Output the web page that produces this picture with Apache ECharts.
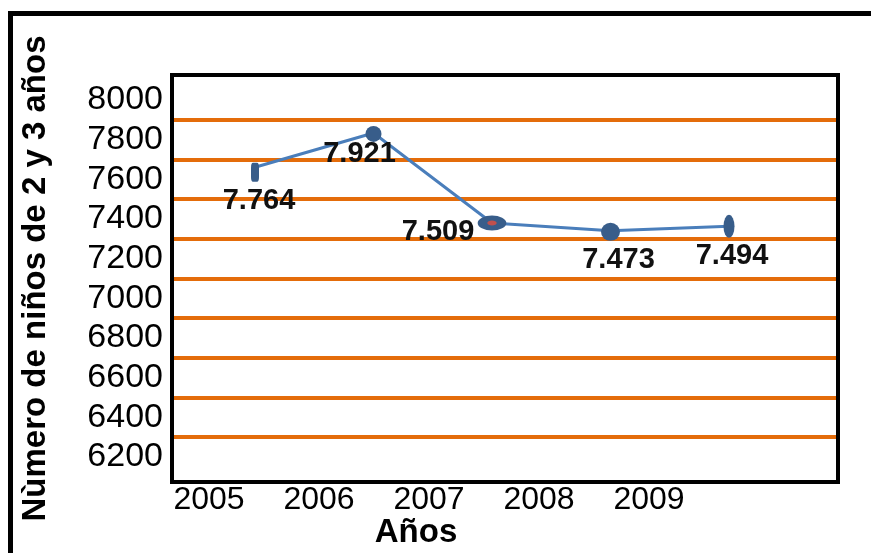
<!DOCTYPE html>
<html>
<head>
<meta charset="utf-8">
<script src="https://cdn.jsdelivr.net/npm/echarts@6/dist/echarts.min.js"></script>
<style>
html, body { margin: 0; background: #fff; }
#main { width: 871px; height: 553px; }
</style>
</head>
<body>
<div id="main"></div>
<script>
// datos
var anios = ['2005', '2006', '2007', '2008', '2009'];
var ninos = [7764, 7921, 7509, 7473, 7494];
// eje vertical (marcas)
var ejeMin = 6200, ejeMax = 8000, ejePaso = 200;

var azul = '#385D8A';
// cada marcador tiene su forma en el original
var marcas = [
	{ symbol: 'roundRect', size: [8, 19], off: [0, 5], color: azul, border: 0 },
	{ symbol: 'circle', size: 16, off: [0, 1], color: azul, border: 0 },
	{ symbol: 'circle', size: [19, 10], off: [0, 0], color: '#C0504D', border: 7 },
	{ symbol: 'circle', size: [19, 18], off: [0, 1], color: azul, border: 0 },
	{ symbol: 'circle', size: [11, 23], off: [0, 0], color: azul, border: 0 }
];
// desplazamiento de las etiquetas
var desplaz = [[4, 29], [-14, 20], [-54, 9], [8, 28], [3, 30]];

var puntos = ninos.map(function (v, i) {
	var m = marcas[i];
	return {
		value: v,
		symbol: m.symbol,
		symbolSize: m.size,
		symbolOffset: m.off,
		itemStyle: { color: m.color, borderColor: azul, borderWidth: m.border },
		label: { offset: desplaz[i] }
	};
});

var myChart = echarts.init(document.getElementById('main'));
var option = {
	animation: false,
	backgroundColor: '#fff',
	graphic: [
		{ type: 'rect', shape: { x: 8, y: 11, width: 863, height: 5 }, style: { fill: '#000' } },
		{ type: 'rect', shape: { x: 8, y: 11, width: 5, height: 542 }, style: { fill: '#000' } }
	],
	grid: [
		// caja del gráfico
		{ left: 172, top: 75, width: 666, height: 407, outerBoundsMode: 'none', show: true, borderColor: '#000', borderWidth: 4, backgroundColor: 'transparent' },
		// eje de valores y líneas naranjas
		{ left: 174, top: 100, width: 662, height: 357, outerBoundsMode: 'none' },
		// años
		{ left: 209, top: 400, width: 440, height: 82, outerBoundsMode: 'none' },
		// serie
		{ left: 255, top: 72, width: 474, height: 437, outerBoundsMode: 'none' }
	],
	xAxis: [
		{ gridIndex: 0, type: 'value', min: 0, max: 1, show: false },
		{ gridIndex: 1, type: 'value', min: 0, max: 1, show: false },
		{
			gridIndex: 2, type: 'category', data: anios, boundaryGap: false,
			axisLine: { show: false }, axisTick: { show: false },
			axisLabel: { fontSize: 32, color: '#000', fontFamily: 'Liberation Sans', margin: 2 },
			name: 'Años', nameLocation: 'middle', nameGap: 33,
			nameTextStyle: { fontSize: 33, fontWeight: 'bold', color: '#000', fontFamily: 'Liberation Sans', padding: [0, 26, 0, 0] }
		},
		{ gridIndex: 3, type: 'category', data: anios, boundaryGap: false, show: false }
	],
	yAxis: [
		{ gridIndex: 0, type: 'value', min: 0, max: 1, show: false },
		{
			gridIndex: 1, type: 'value', min: ejeMin, max: ejeMax, interval: ejePaso,
			axisLine: { show: false }, axisTick: { show: false },
			axisLabel: {
				fontSize: 34, color: '#000', fontFamily: 'Liberation Sans', margin: 11,
				showMinLabel: true, showMaxLabel: true, hideOverlap: false,
				formatter: function (v) { return String(v); }
			},
			splitLine: { show: false },
			minorTick: { show: false, splitNumber: 2 },
			minorSplitLine: { show: true, lineStyle: { color: '#E46C0A', width: 4 } },
			name: 'Nùmero de niños de 2 y 3 años', nameLocation: 'middle', nameGap: 122,
			nameTextStyle: { fontSize: 33, fontWeight: 'bold', color: '#000', fontFamily: 'Liberation Sans' }
		},
		{ gridIndex: 2, type: 'value', show: false },
		{ gridIndex: 3, type: 'value', min: 6200, max: 8200, show: false }
	],
	series: [
		{
			name: 'Niños',
			type: 'line',
			xAxisIndex: 3,
			yAxisIndex: 3,
			data: puntos,
			lineStyle: { color: '#4A7EBB', width: 3 },
			label: {
				show: true,
				position: 'inside',
				fontSize: 29,
				fontWeight: 'bold',
				color: '#111',
				fontFamily: 'Liberation Sans',
				formatter: function (p) { return (p.value / 1000).toFixed(3); }
			}
		}
	]
};
myChart.setOption(option);
</script>
</body>
</html>
